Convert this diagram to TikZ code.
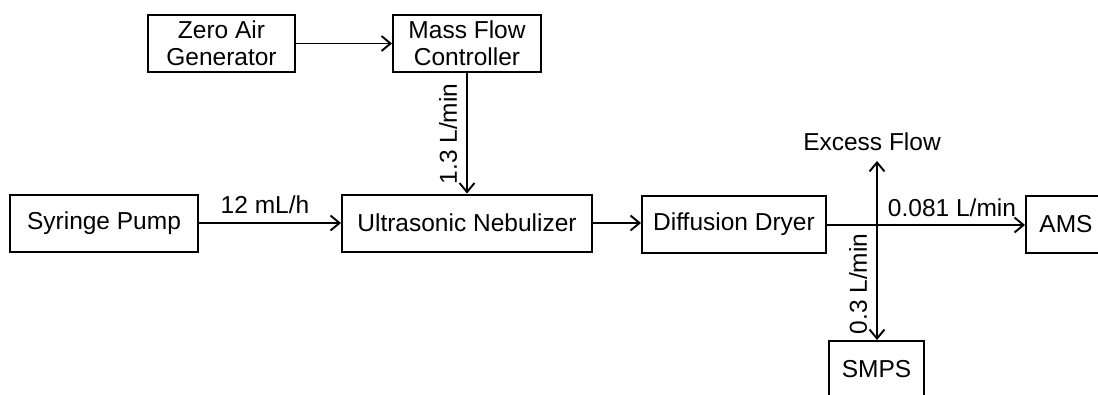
\documentclass[tikz,border=0pt]{standalone}
\usepackage{fontspec}
\setmainfont{Liberation Sans}
\usetikzlibrary{arrows.meta}
\begin{document}
\begin{tikzpicture}[x=1pt,y=-1pt,
  box/.style={draw,line width=2pt,minimum width=#1,minimum height=57pt,inner sep=0pt,align=center,font=\fontsize{24.5}{27}\selectfont},
  lbl/.style={font=\fontsize{24.5}{27}\selectfont,inner sep=0pt},
  flow/.style={line width=1.9pt,-{Straight Barb[length=9pt,width=15pt,line width=1.9pt]}}]
\useasboundingbox (0,0) rectangle (1098,394);
\node[box=147pt] (zag) at (221.5,43.5) {Zero Air\\Generator};
\node[box=148pt] (mfc) at (467,43.5) {Mass Flow\\Controller};
\node[box=188pt] (sp) at (104,223) {Syringe Pump};
\node[box=250pt] (un) at (467,223) {Ultrasonic Nebulizer};
\node[box=184pt] (dd) at (734,224) {Diffusion Dryer};
\node[box=80pt] (ams) at (1066,224.5) {AMS};
\node[box=95pt] (smps) at (876.5,369.5) {SMPS};
\node[lbl] (ef) at (872,142) {Excess Flow};
\coordinate (j) at (877,225);
\coordinate (ex) at (877,161);
\draw[flow] (zag.east) -- (mfc.west);
\draw[flow] (mfc.south) -- (un.north);
\draw[flow] (sp.east) -- (sp.east -| un.west);
\draw[flow] (un.east) -- (un.east -| dd.west);
\draw[line width=1.9pt] (dd.east |- j) -- (j);
\draw[flow] (j) -- (j -| ams.west);
\draw[flow] (j) -- (ex);
\draw[flow] (j) -- (j |- smps.north);
\node[lbl] (l12) at (265,205) {12 mL/h};
\node[lbl,rotate=90] (l13) at (448,134) {1.3 L/min};
\node[lbl,rotate=90] (l03) at (858,284) {0.3 L/min};
\node[lbl] (l081) at (952,208) {0.081 L/min};
\end{tikzpicture}
\end{document}
